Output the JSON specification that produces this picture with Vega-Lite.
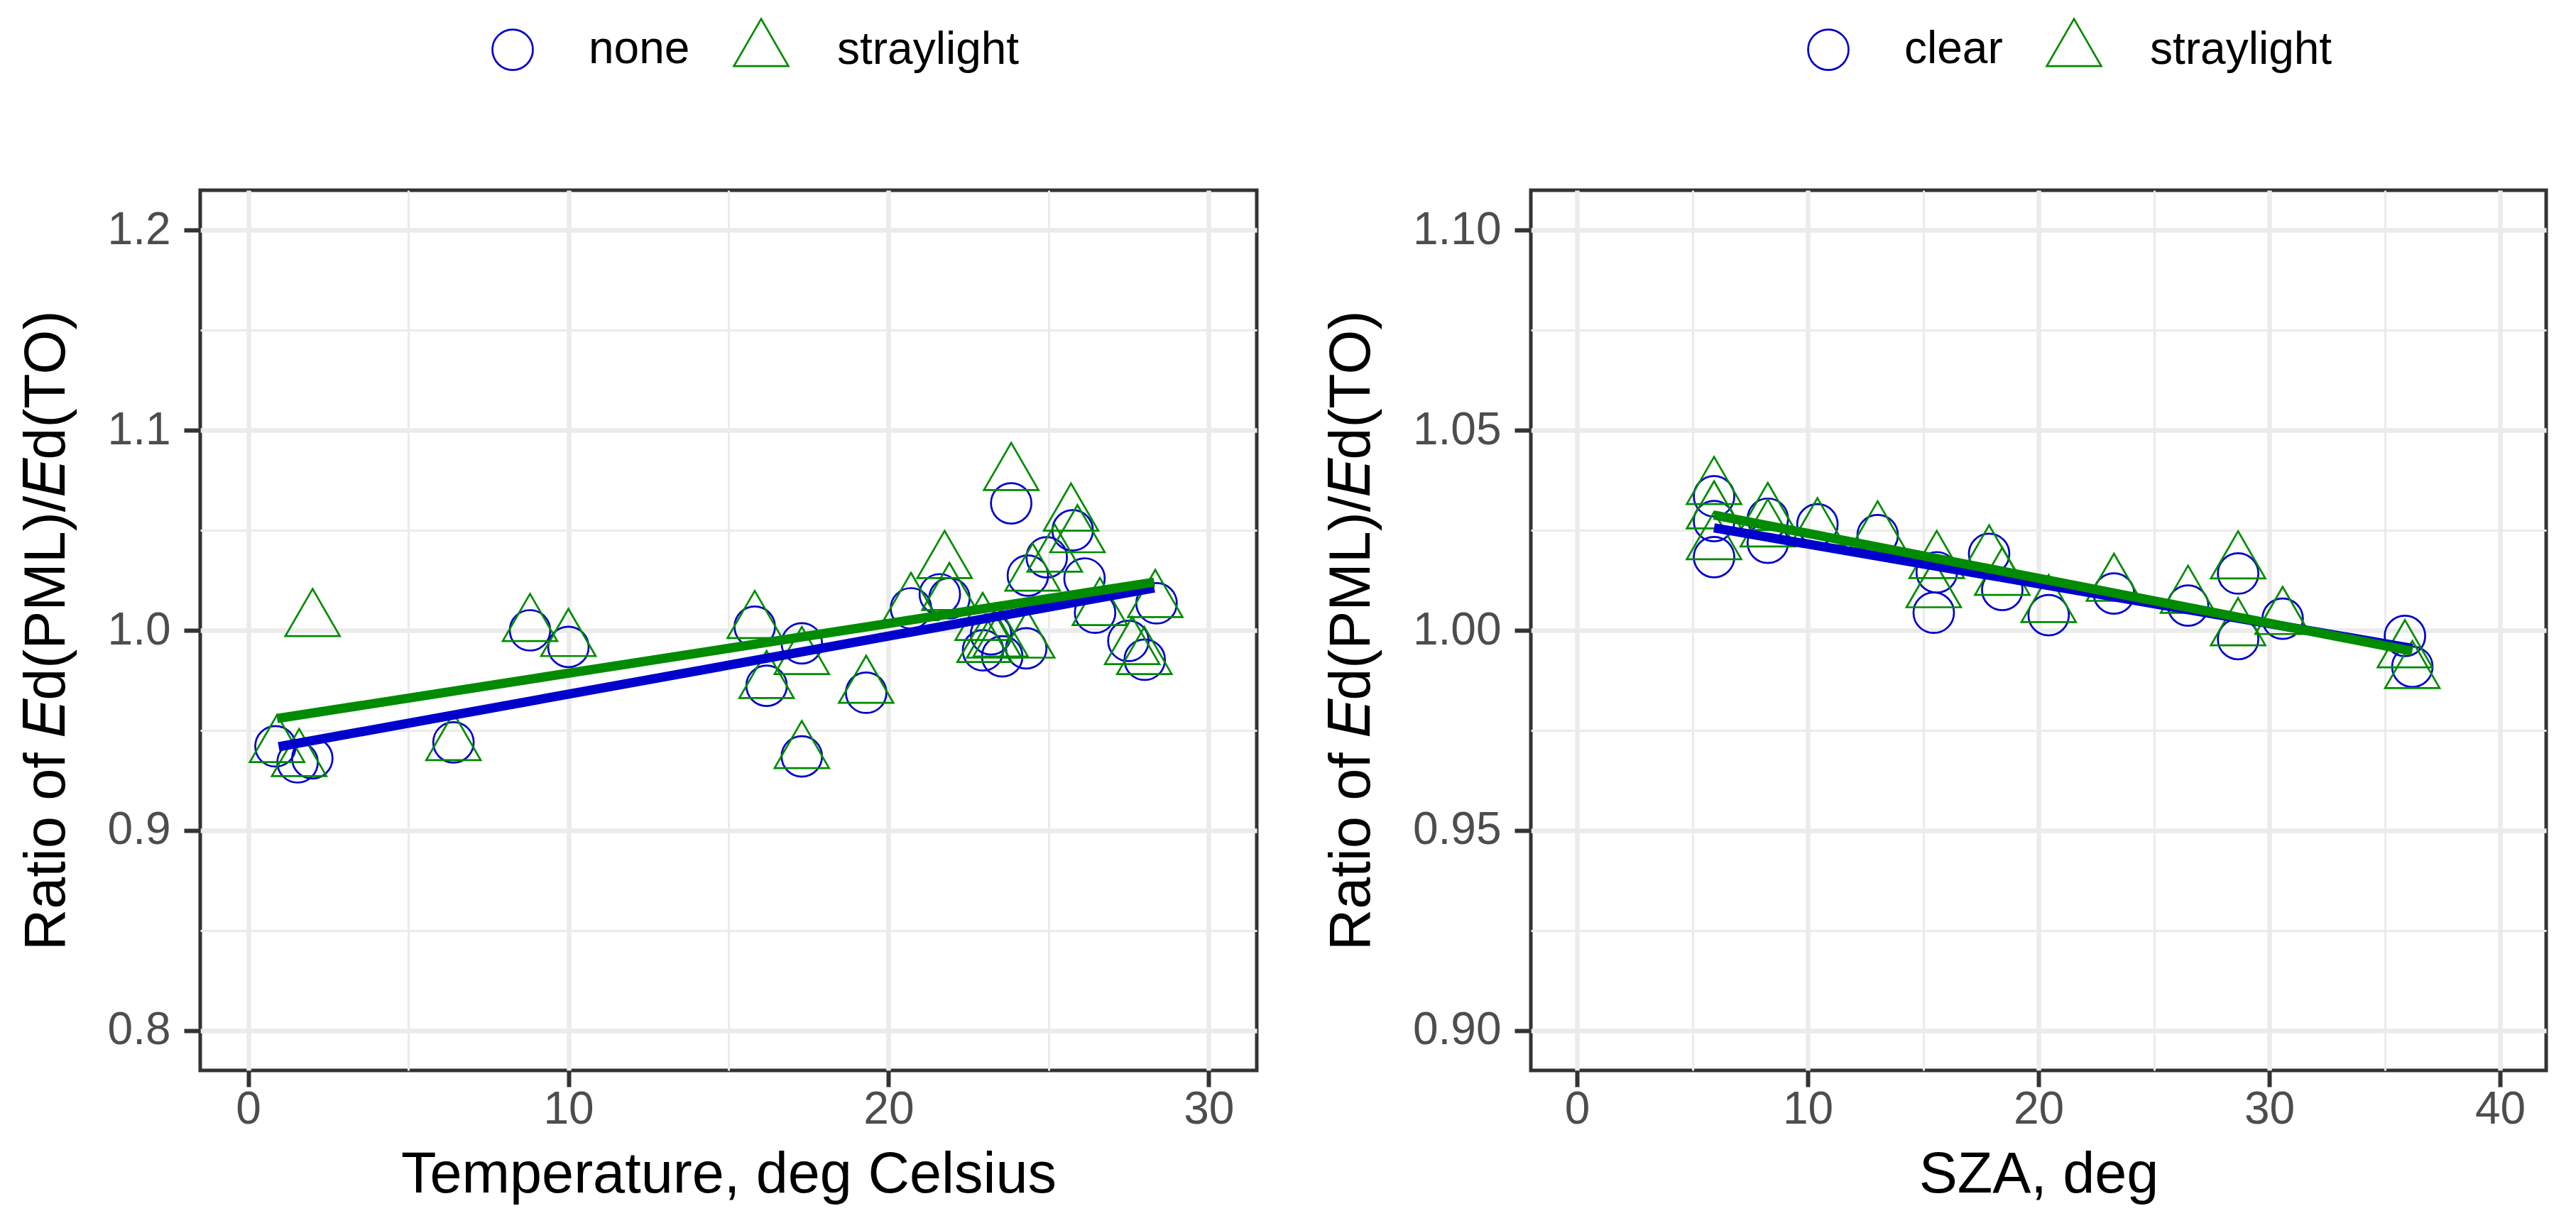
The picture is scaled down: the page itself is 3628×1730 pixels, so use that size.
{
  "$schema": "https://vega.github.io/schema/vega-lite/v6.json",
  "background": "white",
  "padding": {"left": 22, "top": 35, "right": 5, "bottom": 5},
  "spacing": 87,
  "config": {
    "font": "Liberation Sans",
    "view": {"stroke": "#333333", "strokeWidth": 5},
    "axis": {
      "domain": false,
      "grid": true,
      "gridColor": "#EBEBEB",
      "tickColor": "#333333",
      "tickWidth": 6,
      "tickSize": 23,
      "labelFont": "Liberation Sans",
      "labelFontSize": 64,
      "labelColor": "#4D4D4D",
      "labelOverlap": false,
      "labelFlush": false,
      "titleFont": "Liberation Sans",
      "titleFontSize": 81,
      "titleFontWeight": "normal",
      "titleColor": "#000000"
    },
    "legend": {
      "labelFont": "Liberation Sans",
      "labelFontSize": 64,
      "labelColor": "#000000",
      "labelLimit": 0,
      "symbolStrokeWidth": 2.7,
      "padding": 0
    }
  },
  "datasets": {
    "pts_temp": [
      {"group": "none", "sym": "none", "x": 0.85, "y": 0.942},
      {"group": "none", "sym": "none", "x": 1.54, "y": 0.934},
      {"group": "none", "sym": "none", "x": 2.0, "y": 0.936},
      {"group": "none", "sym": "none", "x": 6.41, "y": 0.944},
      {"group": "none", "sym": "none", "x": 8.8, "y": 1.0},
      {"group": "none", "sym": "none", "x": 10.0, "y": 0.9917},
      {"group": "none", "sym": "none", "x": 15.82, "y": 1.0018},
      {"group": "none", "sym": "none", "x": 16.19, "y": 0.9723},
      {"group": "none", "sym": "none", "x": 17.29, "y": 0.9935},
      {"group": "none", "sym": "none", "x": 17.29, "y": 0.937},
      {"group": "none", "sym": "none", "x": 19.3, "y": 0.9688},
      {"group": "none", "sym": "none", "x": 20.7, "y": 1.011},
      {"group": "none", "sym": "none", "x": 21.6, "y": 1.018},
      {"group": "none", "sym": "none", "x": 21.9, "y": 1.016},
      {"group": "none", "sym": "none", "x": 22.95, "y": 0.99},
      {"group": "none", "sym": "none", "x": 23.2, "y": 0.998},
      {"group": "none", "sym": "none", "x": 23.55, "y": 0.987},
      {"group": "none", "sym": "none", "x": 24.3, "y": 0.991},
      {"group": "none", "sym": "none", "x": 23.83, "y": 1.0635},
      {"group": "none", "sym": "none", "x": 25.75, "y": 1.05},
      {"group": "none", "sym": "none", "x": 24.35, "y": 1.0274},
      {"group": "none", "sym": "none", "x": 24.94, "y": 1.0365},
      {"group": "none", "sym": "none", "x": 26.12, "y": 1.0259},
      {"group": "none", "sym": "none", "x": 26.45, "y": 1.0088},
      {"group": "none", "sym": "none", "x": 27.49, "y": 0.9947},
      {"group": "none", "sym": "none", "x": 28.0, "y": 0.9853},
      {"group": "none", "sym": "none", "x": 28.37, "y": 1.0135},
      {"group": "straylight", "sym": "straylight", "x": 0.9, "y": 0.942},
      {"group": "straylight", "sym": "straylight", "x": 1.59, "y": 0.935},
      {"group": "straylight", "sym": "straylight", "x": 2.01, "y": 1.005},
      {"group": "straylight", "sym": "straylight", "x": 6.41, "y": 0.943},
      {"group": "straylight", "sym": "straylight", "x": 8.8, "y": 1.0025},
      {"group": "straylight", "sym": "straylight", "x": 10.0, "y": 0.995},
      {"group": "straylight", "sym": "straylight", "x": 15.82, "y": 1.004},
      {"group": "straylight", "sym": "straylight", "x": 16.19, "y": 0.974},
      {"group": "straylight", "sym": "straylight", "x": 17.29, "y": 0.986},
      {"group": "straylight", "sym": "straylight", "x": 17.29, "y": 0.939},
      {"group": "straylight", "sym": "straylight", "x": 19.3, "y": 0.9716},
      {"group": "straylight", "sym": "straylight", "x": 20.7, "y": 1.013},
      {"group": "straylight", "sym": "straylight", "x": 21.75, "y": 1.034},
      {"group": "straylight", "sym": "straylight", "x": 21.9, "y": 1.018},
      {"group": "straylight", "sym": "straylight", "x": 22.94, "y": 1.003},
      {"group": "straylight", "sym": "straylight", "x": 23.0, "y": 0.992},
      {"group": "straylight", "sym": "straylight", "x": 23.5, "y": 0.9948},
      {"group": "straylight", "sym": "straylight", "x": 24.33, "y": 0.9942},
      {"group": "straylight", "sym": "straylight", "x": 23.83, "y": 1.078},
      {"group": "straylight", "sym": "straylight", "x": 25.7, "y": 1.0577},
      {"group": "straylight", "sym": "straylight", "x": 25.9, "y": 1.0469},
      {"group": "straylight", "sym": "straylight", "x": 24.5, "y": 1.0277},
      {"group": "straylight", "sym": "straylight", "x": 25.19, "y": 1.0372},
      {"group": "straylight", "sym": "straylight", "x": 26.6, "y": 1.0105},
      {"group": "straylight", "sym": "straylight", "x": 27.61, "y": 0.991},
      {"group": "straylight", "sym": "straylight", "x": 27.99, "y": 0.986},
      {"group": "straylight", "sym": "straylight", "x": 28.33, "y": 1.0145},
      {"group": "straylight", "sym": "straylight", "x": 23.3, "y": 0.9942}
    ],
    "fit_temp": [
      {"group": "none", "x": 0.95, "y": 0.9418},
      {"group": "none", "x": 28.3, "y": 1.0212},
      {"group": "straylight", "x": 0.9, "y": 0.9559},
      {"group": "straylight", "x": 28.3, "y": 1.0241}
    ],
    "pts_sza": [
      {"group": "clear", "sym": "clear", "x": 5.94, "y": 1.0183},
      {"group": "clear", "sym": "clear", "x": 5.94, "y": 1.0335},
      {"group": "clear", "sym": "clear", "x": 5.94, "y": 1.0273},
      {"group": "clear", "sym": "clear", "x": 8.27, "y": 1.0279},
      {"group": "clear", "sym": "clear", "x": 8.27, "y": 1.0219},
      {"group": "clear", "sym": "clear", "x": 10.42, "y": 1.0265},
      {"group": "clear", "sym": "clear", "x": 13.03, "y": 1.0238},
      {"group": "clear", "sym": "clear", "x": 15.46, "y": 1.0044},
      {"group": "clear", "sym": "clear", "x": 15.59, "y": 1.0145},
      {"group": "clear", "sym": "clear", "x": 17.86, "y": 1.0191},
      {"group": "clear", "sym": "clear", "x": 18.43, "y": 1.0101},
      {"group": "clear", "sym": "clear", "x": 20.44, "y": 1.0038},
      {"group": "clear", "sym": "clear", "x": 23.27, "y": 1.0092},
      {"group": "clear", "sym": "clear", "x": 26.48, "y": 1.0062},
      {"group": "clear", "sym": "clear", "x": 28.65, "y": 1.0142},
      {"group": "clear", "sym": "clear", "x": 28.65, "y": 0.9978},
      {"group": "clear", "sym": "clear", "x": 30.58, "y": 1.0029},
      {"group": "clear", "sym": "clear", "x": 35.88, "y": 0.9986},
      {"group": "clear", "sym": "clear", "x": 36.2, "y": 0.9909},
      {"group": "straylight", "sym": "straylight", "x": 5.94, "y": 1.0217},
      {"group": "straylight", "sym": "straylight", "x": 5.94, "y": 1.0355},
      {"group": "straylight", "sym": "straylight", "x": 5.94, "y": 1.0294},
      {"group": "straylight", "sym": "straylight", "x": 8.27, "y": 1.029},
      {"group": "straylight", "sym": "straylight", "x": 8.27, "y": 1.0249},
      {"group": "straylight", "sym": "straylight", "x": 10.42, "y": 1.0252},
      {"group": "straylight", "sym": "straylight", "x": 13.03, "y": 1.0244},
      {"group": "straylight", "sym": "straylight", "x": 15.46, "y": 1.0097},
      {"group": "straylight", "sym": "straylight", "x": 15.59, "y": 1.017},
      {"group": "straylight", "sym": "straylight", "x": 17.86, "y": 1.0184},
      {"group": "straylight", "sym": "straylight", "x": 18.43, "y": 1.0128},
      {"group": "straylight", "sym": "straylight", "x": 20.44, "y": 1.006},
      {"group": "straylight", "sym": "straylight", "x": 23.27, "y": 1.0113},
      {"group": "straylight", "sym": "straylight", "x": 26.48, "y": 1.0083},
      {"group": "straylight", "sym": "straylight", "x": 28.65, "y": 1.0169},
      {"group": "straylight", "sym": "straylight", "x": 28.65, "y": 1.0002},
      {"group": "straylight", "sym": "straylight", "x": 30.58, "y": 1.003},
      {"group": "straylight", "sym": "straylight", "x": 35.88, "y": 0.9947},
      {"group": "straylight", "sym": "straylight", "x": 36.2, "y": 0.9895}
    ],
    "fit_sza": [
      {"group": "clear", "x": 5.94, "y": 1.0256},
      {"group": "clear", "x": 36.2, "y": 0.9955},
      {"group": "straylight", "x": 5.94, "y": 1.0288},
      {"group": "straylight", "x": 36.2, "y": 0.9948}
    ]
  },
  "resolve": {
    "scale": {"x": "independent", "y": "independent", "color": "independent", "shape": "independent", "stroke": "independent"},
    "legend": {"color": "independent", "shape": "independent"}
  },
  "hconcat": [
    {
      "width": 1488,
      "height": 1240,
      "layer": [
        {
          "data": {"name": "pts_temp"},
          "mark": {"type": "point", "filled": false, "strokeWidth": 2.7, "size": 3249, "opacity": 1},
          "encoding": {
            "x": {
              "field": "x", "type": "quantitative",
              "scale": {"domain": [-1.5, 31.5], "nice": false, "zero": false},
              "axis": {
                "title": "Temperature, deg Celsius",
                "values": [0, 5, 10, 15, 20, 25, 30],
                "format": "d",
                "labelExpr": "datum.value % 10 === 0 ? datum.label : ''",
                "gridWidth": {"condition": {"test": "datum.value % 10 === 0", "value": 6.5}, "value": 3},
                "tickOpacity": {"condition": {"test": "datum.value % 10 === 0", "value": 1}, "value": 0},
                "labelPadding": 0,
                "titlePadding": 20
              }
            },
            "y": {
              "field": "y", "type": "quantitative",
              "scale": {"domain": [0.78, 1.22], "nice": false, "zero": false},
              "axis": {
                "title": "Ratio of 𝐸d(PML)/𝐸d(TO)",
                "values": [0.8, 0.85, 0.9, 0.95, 1.0, 1.05, 1.1, 1.15, 1.2],
                "format": ".1f",
                "labelExpr": "abs(datum.value*10 - round(datum.value*10)) < 0.001 ? datum.label : ''",
                "gridWidth": {"condition": {"test": "abs(datum.value*10 - round(datum.value*10)) < 0.001", "value": 6.5}, "value": 3},
                "tickOpacity": {"condition": {"test": "abs(datum.value*10 - round(datum.value*10)) < 0.001", "value": 1}, "value": 0},
                "labelPadding": 19,
                "titlePadding": 44
              }
            },
            "color": {
              "field": "group", "type": "nominal",
              "scale": {"domain": ["none", "straylight"], "range": ["#0000CD", "#008B00"]},
              "legend": {
                "title": null, "orient": "none", "direction": "horizontal",
                "legendX": 408, "legendY": -230,
                "symbolSize": 3249, "labelOffset": 75, "columnPadding": 56
              }
            },
            "shape": {
              "field": "sym", "type": "nominal",
              "scale": {"domain": ["none", "straylight"], "range": ["M0,-1A1,1 0 1,1 0,1A1,1 0 1,1 0,-1Z", "M0,-1.555L1.347,0.778L-1.347,0.778Z"]},
              "legend": null
            }
          }
        },
        {
          "data": {"name": "fit_temp"},
          "mark": {"type": "line", "strokeWidth": 13, "strokeCap": "butt"},
          "encoding": {
            "x": {"field": "x", "type": "quantitative"},
            "y": {"field": "y", "type": "quantitative"},
            "stroke": {"field": "group", "type": "nominal", "scale": {"domain": ["none", "straylight"], "range": ["#0000CD", "#008B00"]}, "legend": null}
          }
        }
      ]
    },
    {
      "width": 1430,
      "height": 1240,
      "layer": [
        {
          "data": {"name": "pts_sza"},
          "mark": {"type": "point", "filled": false, "strokeWidth": 2.7, "size": 3249, "opacity": 1},
          "encoding": {
            "x": {
              "field": "x", "type": "quantitative",
              "scale": {"domain": [-2, 42], "nice": false, "zero": false},
              "axis": {
                "title": "SZA, deg",
                "values": [0, 5, 10, 15, 20, 25, 30, 35, 40],
                "format": "d",
                "labelExpr": "datum.value % 10 === 0 ? datum.label : ''",
                "gridWidth": {"condition": {"test": "datum.value % 10 === 0", "value": 6.5}, "value": 3},
                "tickOpacity": {"condition": {"test": "datum.value % 10 === 0", "value": 1}, "value": 0},
                "labelPadding": 0,
                "titlePadding": 20
              }
            },
            "y": {
              "field": "y", "type": "quantitative",
              "scale": {"domain": [0.89, 1.11], "nice": false, "zero": false},
              "axis": {
                "title": "Ratio of 𝐸d(PML)/𝐸d(TO)",
                "values": [0.9, 0.925, 0.95, 0.975, 1.0, 1.025, 1.05, 1.075, 1.1],
                "format": ".2f",
                "labelExpr": "abs(datum.value*20 - round(datum.value*20)) < 0.001 ? datum.label : ''",
                "gridWidth": {"condition": {"test": "abs(datum.value*20 - round(datum.value*20)) < 0.001", "value": 6.5}, "value": 3},
                "tickOpacity": {"condition": {"test": "abs(datum.value*20 - round(datum.value*20)) < 0.001", "value": 1}, "value": 0},
                "labelPadding": 19,
                "titlePadding": 44
              }
            },
            "color": {
              "field": "group", "type": "nominal",
              "scale": {"domain": ["clear", "straylight"], "range": ["#0000CD", "#008B00"]},
              "legend": {
                "title": null, "orient": "none", "direction": "horizontal",
                "legendX": 387, "legendY": -230,
                "symbolSize": 3249, "labelOffset": 75, "columnPadding": 56
              }
            },
            "shape": {
              "field": "sym", "type": "nominal",
              "scale": {"domain": ["clear", "straylight"], "range": ["M0,-1A1,1 0 1,1 0,1A1,1 0 1,1 0,-1Z", "M0,-1.555L1.347,0.778L-1.347,0.778Z"]},
              "legend": null
            }
          }
        },
        {
          "data": {"name": "fit_sza"},
          "mark": {"type": "line", "strokeWidth": 13, "strokeCap": "butt"},
          "encoding": {
            "x": {"field": "x", "type": "quantitative"},
            "y": {"field": "y", "type": "quantitative"},
            "stroke": {"field": "group", "type": "nominal", "scale": {"domain": ["clear", "straylight"], "range": ["#0000CD", "#008B00"]}, "legend": null}
          }
        }
      ]
    }
  ]
}
